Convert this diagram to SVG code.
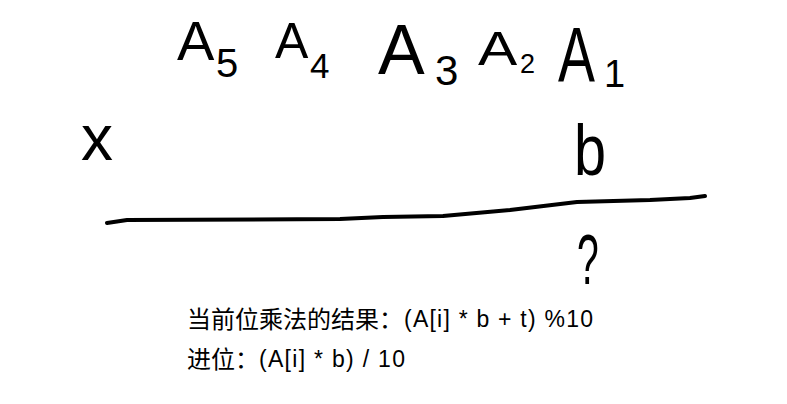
<svg xmlns="http://www.w3.org/2000/svg" width="787" height="404" viewBox="0 0 787 404">
<style>
.hw{font-family:"Liberation Sans",Arial,sans-serif;fill:#000;}
.cjk{font-family:"Noto Sans CJK SC","Noto Sans",sans-serif;font-size:24px;fill:#000;}
.lat{font-family:"Liberation Sans",Arial,sans-serif;font-size:23px;fill:#000;}
.stroke{fill:none;stroke:#000;stroke-width:4;stroke-linecap:round;stroke-linejoin:round;}
</style>
<rect width="787" height="404" fill="#fff"/>
<g id="digits">
  <g id="a5"><text class="hw" x="177" y="60" font-size="56">A</text><text class="hw" x="216" y="77" font-size="40">5</text></g>
  <g id="a4"><text class="hw" x="275" y="58" font-size="50">A</text><text class="hw" x="310" y="78" font-size="35">4</text></g>
  <g id="a3"><text class="hw" x="378" y="74" font-size="70">A</text><text class="hw" x="435" y="85" font-size="42">3</text></g>
  <g id="a2"><text class="hw" transform="translate(478,65) scale(1.2,1)" font-size="49">A</text><text class="hw" x="520" y="73" font-size="27">2</text></g>
  <g id="a1"><text class="hw" transform="translate(558,82) scale(0.72,1)" font-size="77">A</text><text class="hw" x="604" y="87" font-size="38">1</text></g>
</g>
<g id="multiplier">
  <text class="hw" x="81" y="160" font-size="64">x</text>
  <text class="hw" transform="translate(574,175) scale(0.8,1)" font-size="72">b</text>
</g>
<g id="rule">
  <path class="stroke" d="M107,223 L127,220 L340,219 L383,217 L443,216 L510,210 L577,202 L650,200 L690,198 L705,196"/>
</g>
<g id="result">
  <text class="hw" transform="translate(577,284) scale(0.55,1)" font-size="71">?</text>
</g>
<g id="notes">
  <text class="cjk" x="187" y="328">当前位乘法的结果：</text>
  <text class="lat" x="404" y="327" textLength="189" lengthAdjust="spacing">(A[i] * b + t) %10</text>
  <text class="cjk" x="187" y="368">进位：</text>
  <text class="lat" x="259" y="367" textLength="146" lengthAdjust="spacing">(A[i] * b) / 10</text>
</g>
</svg>
